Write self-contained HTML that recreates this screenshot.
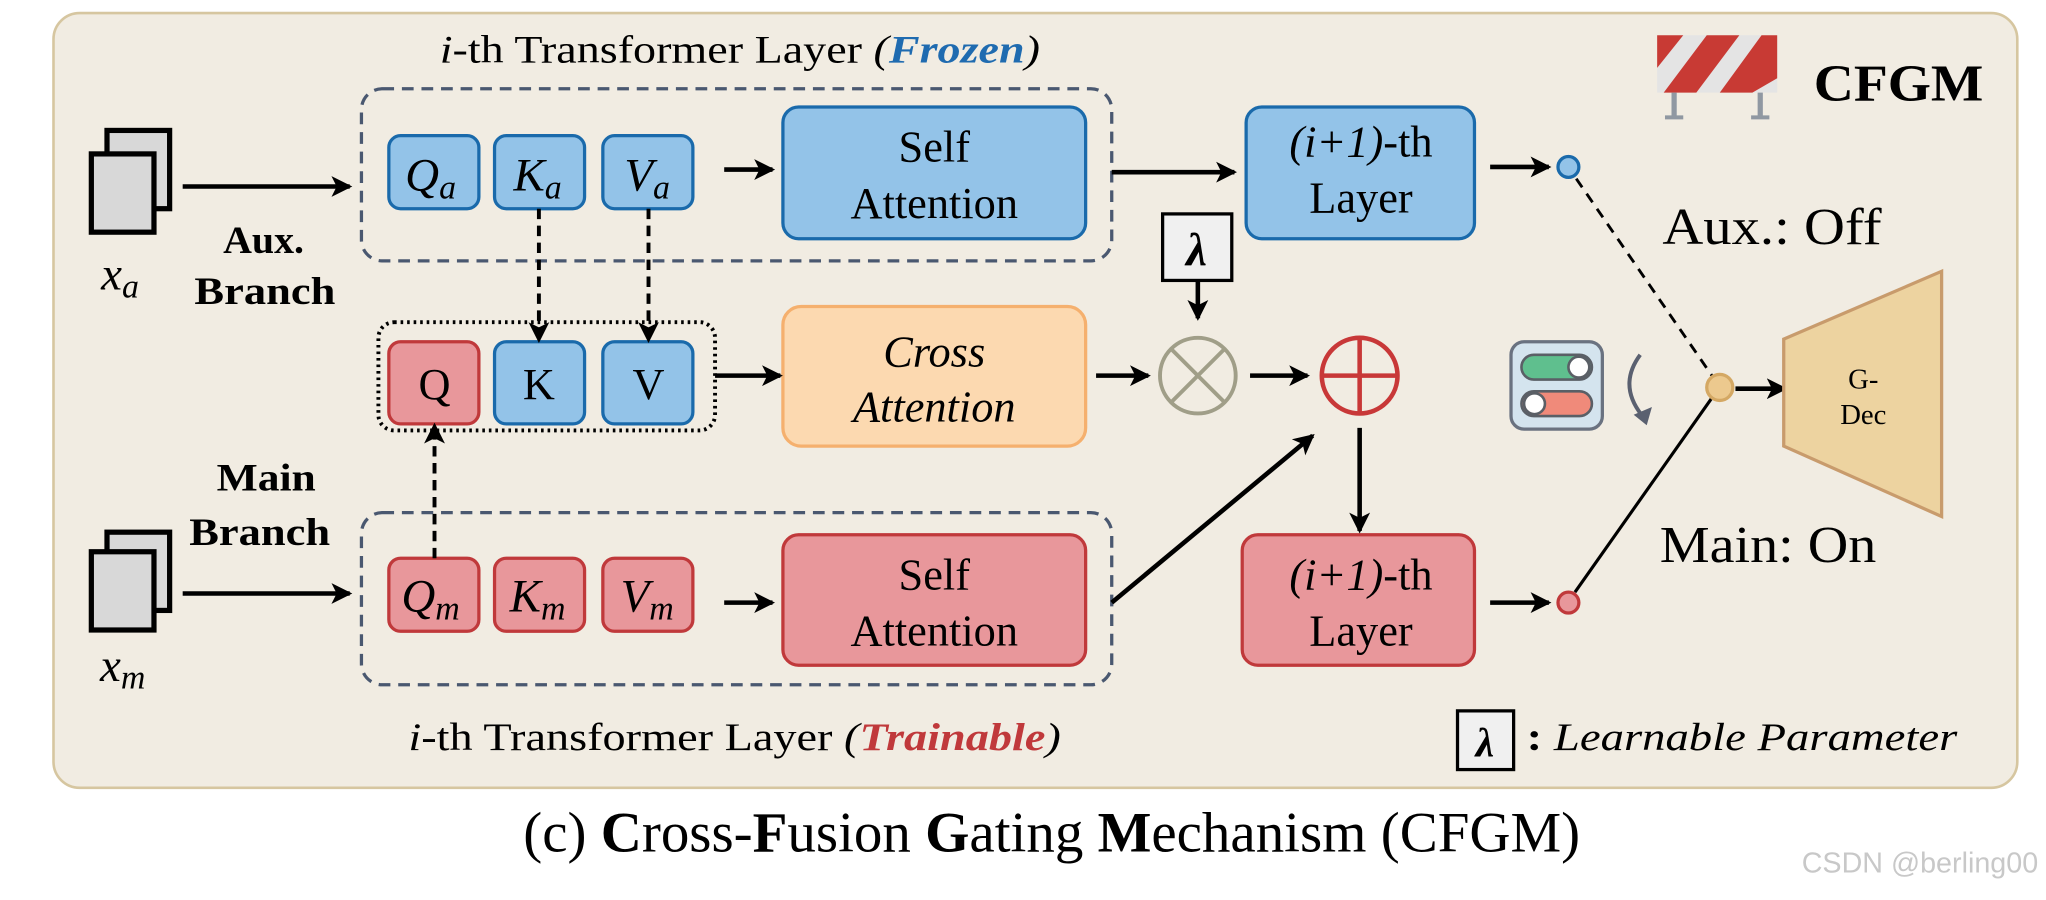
<!DOCTYPE html>
<html><head><meta charset="utf-8"><style>
html,body{margin:0;padding:0;background:#fff;width:2046px;height:900px;overflow:hidden}
svg{display:block}
text{font-family:"Liberation Serif",serif}
</style></head><body>
<svg width="2046" height="900" viewBox="0 0 1568 690" preserveAspectRatio="none" xmlns="http://www.w3.org/2000/svg">
<defs>
<marker id="ahs" markerWidth="16" markerHeight="16" refX="14" refY="8" orient="auto" markerUnits="userSpaceOnUse"><path d="M0,0 L16,8 L0,16 L4,8 Z" fill="#000"/></marker>
</defs>
<rect x="0" y="0" width="1568" height="690" fill="#fff"/>
<rect x="41" y="10" width="1505" height="594" rx="20" fill="#f1ece2" stroke="#d6c6a0" stroke-width="2"/>

<!-- titles -->
<text x="567" y="48" font-size="30" text-anchor="middle" textLength="460" lengthAdjust="spacingAndGlyphs"><tspan font-style="italic">i</tspan>-th Transformer Layer <tspan font-style="italic">(</tspan><tspan font-style="italic" font-weight="bold" fill="#1f6bb0">Frozen</tspan><tspan font-style="italic">)</tspan></text>
<text x="563" y="575" font-size="30" text-anchor="middle" textLength="500" lengthAdjust="spacingAndGlyphs"><tspan font-style="italic">i</tspan>-th Transformer Layer <tspan font-style="italic">(</tspan><tspan font-style="italic" font-weight="bold" fill="#c0393b">Trainable</tspan><tspan font-style="italic">)</tspan></text>

<!-- dashed boxes -->
<rect x="277" y="68" width="575" height="132" rx="16" fill="none" stroke="#4a5870" stroke-width="2.5" stroke-dasharray="9,6"/>
<rect x="277" y="393" width="575" height="132" rx="16" fill="none" stroke="#4a5870" stroke-width="2.5" stroke-dasharray="9,6"/>
<rect x="290" y="247" width="258" height="83" rx="12" fill="none" stroke="#000" stroke-width="3" stroke-dasharray="2,3"/>

<!-- docs -->
<rect x="82" y="100" width="48" height="60" fill="#d8d8d8" stroke="#000" stroke-width="4"/>
<rect x="70" y="118" width="48" height="60" fill="#d8d8d8" stroke="#000" stroke-width="4"/>
<text x="92" y="222" font-size="36" font-style="italic" text-anchor="middle">x<tspan font-size="26" dy="6">a</tspan></text>
<rect x="82" y="408" width="48" height="60" fill="#d8d8d8" stroke="#000" stroke-width="4"/>
<rect x="70" y="423" width="48" height="60" fill="#d8d8d8" stroke="#000" stroke-width="4"/>
<text x="94" y="522" font-size="36" font-style="italic" text-anchor="middle">x<tspan font-size="26" dy="6">m</tspan></text>

<line x1="140" y1="143" x2="268" y2="143" stroke="#000" stroke-width="3.5" marker-end="url(#ahs)"/>
<line x1="140" y1="455" x2="268" y2="455" stroke="#000" stroke-width="3.5" marker-end="url(#ahs)"/>
<text x="202" y="194" font-size="30" font-weight="bold" text-anchor="middle" textLength="62" lengthAdjust="spacingAndGlyphs">Aux.</text>
<text x="203" y="233" font-size="30" font-weight="bold" text-anchor="middle" textLength="108" lengthAdjust="spacingAndGlyphs">Branch</text>
<text x="204" y="376" font-size="30" font-weight="bold" text-anchor="middle" textLength="76" lengthAdjust="spacingAndGlyphs">Main</text>
<text x="199" y="418" font-size="30" font-weight="bold" text-anchor="middle" textLength="108" lengthAdjust="spacingAndGlyphs">Branch</text>

<g stroke="#1a6aab" stroke-width="2.5" fill="#93c3e8">
<rect x="298" y="104" width="69" height="56" rx="9"/>
<rect x="379" y="104" width="69" height="56" rx="9"/>
<rect x="462" y="104" width="69" height="56" rx="9"/>
<rect x="600" y="82" width="232" height="101" rx="12"/>
<rect x="955" y="82" width="175" height="101" rx="12"/>
<rect x="379" y="262" width="69" height="63" rx="9"/>
<rect x="462" y="262" width="69" height="63" rx="9"/>
</g>
<g stroke="#c0393b" stroke-width="2.5" fill="#e8979b">
<rect x="298" y="262" width="69" height="63" rx="9"/>
<rect x="298" y="428" width="69" height="56" rx="9"/>
<rect x="379" y="428" width="69" height="56" rx="9"/>
<rect x="462" y="428" width="69" height="56" rx="9"/>
<rect x="600" y="410" width="232" height="100" rx="12"/>
<rect x="952" y="410" width="178" height="100" rx="12"/>
</g>
<rect x="600" y="235" width="232" height="107" rx="14" fill="#fcd9b0" stroke="#f5b06e" stroke-width="2.5"/>

<g font-size="36" font-style="italic" text-anchor="middle">
<text x="330" y="146">Q<tspan font-size="26" dy="6">a</tspan></text>
<text x="412" y="146">K<tspan font-size="26" dy="6">a</tspan></text>
<text x="496" y="146">V<tspan font-size="26" dy="6">a</tspan></text>
<text x="330" y="469">Q<tspan font-size="26" dy="6">m</tspan></text>
<text x="412" y="469">K<tspan font-size="26" dy="6">m</tspan></text>
<text x="496" y="469">V<tspan font-size="26" dy="6">m</tspan></text>
</g>
<g font-size="34" text-anchor="middle">
<text x="333" y="306">Q</text><text x="413" y="306">K</text><text x="497" y="306">V</text>
<text x="716" y="124">Self</text><text x="716" y="167">Attention</text>
<text x="716" y="452">Self</text><text x="716" y="495">Attention</text>
<text x="1043" y="120"><tspan font-style="italic">(i+1)</tspan>-th</text><text x="1043" y="163">Layer</text>
<text x="1043" y="452"><tspan font-style="italic">(i+1)</tspan>-th</text><text x="1043" y="495">Layer</text>
<text x="716" y="281" font-style="italic">Cross</text><text x="716" y="323" font-style="italic">Attention</text>
</g>

<g stroke="#000" stroke-width="3.5" fill="none">
<line x1="555" y1="130" x2="592" y2="130" marker-end="url(#ahs)"/>
<line x1="555" y1="462" x2="592" y2="462" marker-end="url(#ahs)"/>
<line x1="852" y1="132" x2="946" y2="132" marker-end="url(#ahs)"/>
<line x1="548" y1="288" x2="598" y2="288" marker-end="url(#ahs)"/>
<line x1="840" y1="288" x2="880" y2="288" marker-end="url(#ahs)"/>
<line x1="958" y1="288" x2="1002" y2="288" marker-end="url(#ahs)"/>
<line x1="918" y1="215" x2="918" y2="244" marker-end="url(#ahs)"/>
<line x1="1042" y1="328" x2="1042" y2="407" marker-end="url(#ahs)"/>
<line x1="852" y1="462" x2="1006" y2="334" marker-end="url(#ahs)"/>
<line x1="1142" y1="128" x2="1187" y2="128" marker-end="url(#ahs)"/>
<line x1="1142" y1="462" x2="1187" y2="462" marker-end="url(#ahs)"/>
<line x1="1330" y1="298" x2="1368" y2="298" marker-end="url(#ahs)"/>
<line x1="413" y1="160" x2="413" y2="261" stroke-width="3" stroke-dasharray="8,5" marker-end="url(#ahs)"/>
<line x1="497" y1="160" x2="497" y2="261" stroke-width="3" stroke-dasharray="8,5" marker-end="url(#ahs)"/>
<line x1="333" y1="428" x2="333" y2="326" stroke-width="3" stroke-dasharray="8,5" marker-end="url(#ahs)"/>
<line x1="1208" y1="137" x2="1312" y2="288" stroke-width="2.2" stroke-dasharray="8,6"/>
<line x1="1207" y1="454" x2="1312" y2="305" stroke-width="2.4"/>
</g>

<circle cx="918" cy="288" r="29" fill="none" stroke="#a09e88" stroke-width="3"/>
<line x1="897" y1="267" x2="939" y2="309" stroke="#a09e88" stroke-width="3"/>
<line x1="939" y1="267" x2="897" y2="309" stroke="#a09e88" stroke-width="3"/>
<circle cx="1042" cy="288" r="29" fill="none" stroke="#c83838" stroke-width="3.5"/>
<line x1="1013" y1="288" x2="1071" y2="288" stroke="#c83838" stroke-width="3.5"/>
<line x1="1042" y1="259" x2="1042" y2="317" stroke="#c83838" stroke-width="3.5"/>
<rect x="891" y="164" width="53" height="51" fill="#f0f0f0" stroke="#000" stroke-width="2.5"/>
<text x="917" y="203" font-size="36" font-weight="bold" font-style="italic" text-anchor="middle">λ</text>

<circle cx="1202" cy="128" r="8" fill="#93c3e8" stroke="#1a6aab" stroke-width="2.5"/>
<circle cx="1202" cy="462" r="8" fill="#e8979b" stroke="#c0393b" stroke-width="2.5"/>
<circle cx="1318" cy="297" r="10" fill="#ecc98e" stroke="#d4a864" stroke-width="2.5"/>

<text x="1274" y="187" font-size="40" textLength="168" lengthAdjust="spacingAndGlyphs">Aux.: Off</text>
<text x="1272" y="431" font-size="40" textLength="166" lengthAdjust="spacingAndGlyphs">Main: On</text>

<polygon points="1367,260 1488,208 1488,396 1367,342" fill="#edd3a0" stroke="#c89b6c" stroke-width="2.5"/>
<text x="1428" y="298" font-size="22" text-anchor="middle">G-</text>
<text x="1428" y="325" font-size="22" text-anchor="middle">Dec</text>

<rect x="1158" y="262" width="70" height="67" rx="10" fill="#d4e4ee" stroke="#6a7280" stroke-width="2.5"/>
<rect x="1166" y="272" width="54" height="19" rx="9.5" fill="#5fbf8e" stroke="#5a5f66" stroke-width="2"/>
<circle cx="1210" cy="281.5" r="8" fill="#fff" stroke="#5a5f66" stroke-width="2"/>
<rect x="1166" y="300" width="54" height="19" rx="9.5" fill="#f08a7a" stroke="#5a5f66" stroke-width="2"/>
<circle cx="1176" cy="309.5" r="8" fill="#fff" stroke="#5a5f66" stroke-width="2"/>
<path d="M1257,272 Q1240,295 1258,318" fill="none" stroke="#5a6070" stroke-width="3"/>
<polygon points="1252,318 1266,312 1262,326" fill="#5a6070"/>

<rect x="1270" y="27" width="92" height="44" fill="#e4e4e4"/>
<polygon points="1270,27 1290,27 1270,52" fill="#c83a34"/>
<polygon points="1308,27 1333,27 1300,71 1275,71" fill="#c83a34"/>
<polygon points="1350,27 1362,27 1362,60 1343,71 1318,71" fill="#c83a34"/>
<line x1="1283" y1="71" x2="1283" y2="90" stroke="#9098a2" stroke-width="4"/>
<line x1="1349" y1="71" x2="1349" y2="90" stroke="#9098a2" stroke-width="4"/>
<line x1="1276" y1="90" x2="1290" y2="90" stroke="#9098a2" stroke-width="3"/>
<line x1="1342" y1="90" x2="1356" y2="90" stroke="#9098a2" stroke-width="3"/>
<text x="1390" y="77" font-size="40" font-weight="bold" textLength="130" lengthAdjust="spacingAndGlyphs">CFGM</text>

<rect x="1117" y="545" width="43" height="45" fill="#f0f0f0" stroke="#000" stroke-width="2.5"/>
<text x="1138" y="580" font-size="32" font-weight="bold" font-style="italic" text-anchor="middle">λ</text>
<text x="1170" y="575" font-size="30" font-style="italic" textLength="330" lengthAdjust="spacingAndGlyphs"><tspan font-weight="bold" font-style="normal">:</tspan> Learnable Parameter</text>

<text x="806" y="653" font-size="44" text-anchor="middle" textLength="810" lengthAdjust="spacingAndGlyphs">(c) <tspan font-weight="bold">C</tspan>ross-<tspan font-weight="bold">F</tspan>usion <tspan font-weight="bold">G</tspan>ating <tspan font-weight="bold">M</tspan>echanism (CFGM)</text>
<text x="1562" y="669" font-size="22" fill="#c8c8c8" text-anchor="end" style="font-family:'Liberation Sans',sans-serif">CSDN @berling00</text>
</svg>
</body></html>
